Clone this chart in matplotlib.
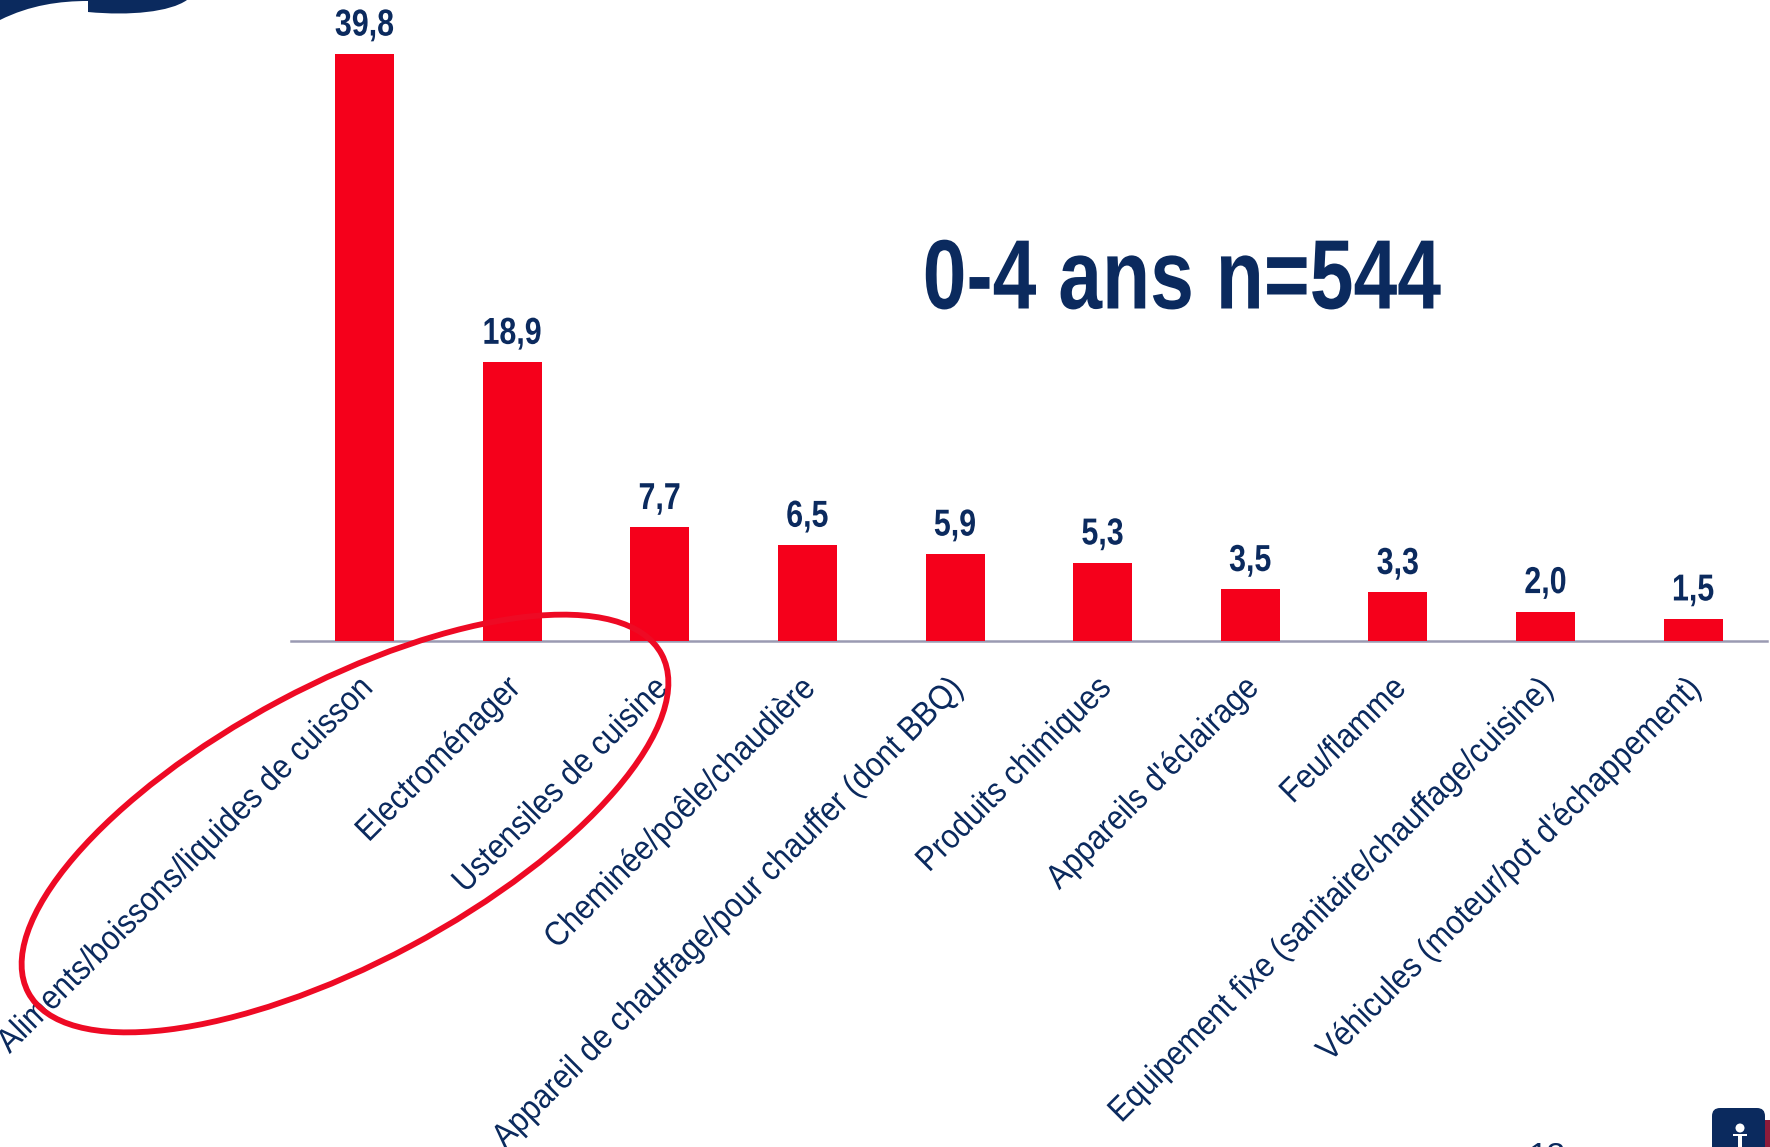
import matplotlib
matplotlib.use("Agg")
import matplotlib.pyplot as plt
from matplotlib.patches import Ellipse, PathPatch, FancyBboxPatch, Rectangle
from matplotlib.path import Path
from matplotlib.patheffects import AbstractPathEffect
from matplotlib.transforms import IdentityTransform, Affine2D

categories = ["Aliments/boissons/liquides de cuisson", "Electroménager", "Ustensiles de cuisine",
              "Cheminée/poêle/chaudière", "Appareil de chauffage/pour chauffer (dont BBQ)",
              "Produits chimiques", "Appareils d'éclairage", "Feu/flamme",
              "Equipement fixe (sanitaire/chauffage/cuisine)", "Véhicules (moteur/pot d'échappement)"]
values = [39.8, 18.9, 7.7, 6.5, 5.9, 5.3, 3.5, 3.3, 2.0, 1.5]
value_labels = ["39,8", "18,9", "7,7", "6,5", "5,9", "5,3", "3,5", "3,3", "2,0", "1,5"]
title_text = "0-4 ans n=544"

NAVY = "#0B2A5E"
RED = "#F5001B"
W, H = 1770, 1147


class Squeeze(AbstractPathEffect):
    """Narrow a text horizontally (no condensed font installed), keeping its anchor."""

    def __init__(self, sx, anchor=0.5, dx=0, dy=0):
        self.sx, self.anchor, self.dx, self.dy = sx, anchor, dx, dy

    def draw_path(self, renderer, gc, tpath, affine, rgbFace=None):
        w = tpath.get_extents().x1
        pre = Affine2D().scale(self.sx, 1).translate((1 - self.sx) * w * self.anchor, 0)
        renderer.draw_path(gc, tpath, pre + affine + Affine2D().translate(self.dx, self.dy), rgbFace)


fig = plt.figure(figsize=(W / 100, H / 100), dpi=100, facecolor="white")
ax = fig.add_axes([291 / W, (H - 641) / H, (1767 - 291) / W, 641 / H])
ax.patch.set_alpha(0)
ax.bar(range(len(values)), values, width=0.4, color=RED, zorder=3)
ax.set_xlim(-0.498, 9.5)
ax.set_ylim(0, 641 / 14.75)
for s in ["top", "left", "right"]:
    ax.spines[s].set_visible(False)
ax.spines["bottom"].set_color("#9A9AB2")
ax.spines["bottom"].set_linewidth(1.8)
ax.set_yticks([])
ax.set_xticks(range(len(values)))
ax.set_xticklabels(categories, rotation=45, ha="right", va="top", rotation_mode="anchor",
                   family="Liberation Sans", fontsize=24.5, color=NAVY)
ax.tick_params(axis="x", length=0, pad=24)
for lab in ax.get_xticklabels():
    lab.set_path_effects([Squeeze(0.903, anchor=1.0, dx=-7, dy=2)])

for i, (v, t) in enumerate(zip(values, value_labels)):
    a = ax.annotate(t, (i, v), xytext=(0, 7.5), textcoords="offset points", ha="center", va="bottom",
                    family="Liberation Sans", fontweight="bold",
                    fontsize=27, color=NAVY, annotation_clip=False)
    a.set_path_effects([Squeeze(0.81)])

tt = fig.text(1182 / W, (H - 283) / H, title_text, ha="center", va="center",
              family="Liberation Sans", fontweight="bold", fontsize=71, color=NAVY)
tt.set_path_effects([Squeeze(0.798)])

# hand-drawn emphasis ellipse
fig.add_artist(Ellipse((345, H - 823.5), 2 * 359, 2 * 139, angle=28.1, fill=False,
                       edgecolor="#EE0A24", linewidth=4.2, transform=IdentityTransform(), zorder=2))

# slide decoration: cropped logo pieces
swoosh = Path([(0, H - 20), (30, H - 5), (60, H - 1), (88, H - 1), (88, H - 12), (130, H - 16), (170, H - 12), (187, H),
               (0, H), (0, H - 20)],
              [Path.MOVETO, Path.CURVE4, Path.CURVE4, Path.CURVE4, Path.LINETO, Path.CURVE4, Path.CURVE4, Path.CURVE4,
               Path.LINETO, Path.CLOSEPOLY])
fig.add_artist(PathPatch(swoosh, facecolor=NAVY, edgecolor="none", transform=IdentityTransform()))
fig.add_artist(Rectangle((1764, 0), 6, 27, facecolor="#8E1B3A", edgecolor="none", transform=IdentityTransform()))
fig.add_artist(FancyBboxPatch((1712, -30), 53, 69, boxstyle="round,pad=0,rounding_size=8",
                              facecolor=NAVY, edgecolor="none", transform=IdentityTransform()))
fig.add_artist(Ellipse((1740, H - 1128), 9, 9, facecolor="white", edgecolor="none", transform=IdentityTransform()))
fig.add_artist(Rectangle((1738, 0), 4, 13, facecolor="white", edgecolor="none", transform=IdentityTransform()))
fig.add_artist(Rectangle((1733, 11), 14, 2.5, facecolor="white", edgecolor="none", transform=IdentityTransform()))
fig.text(1547 / W, (H - 1158) / H, "13", ha="center", va="center", family="Liberation Sans",
         fontsize=24, color=NAVY)

fig.savefig("out.png", dpi=100)
